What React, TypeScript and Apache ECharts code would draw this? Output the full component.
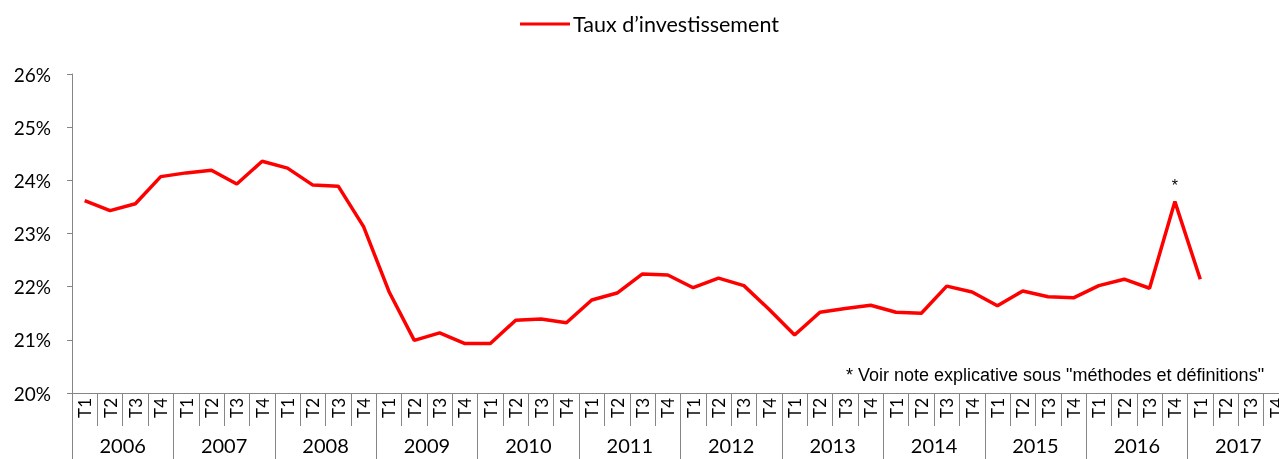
import React, { useEffect, useRef } from "react";
import * as echarts from "echarts";

const years = ["2006", "2007", "2008", "2009", "2010", "2011", "2012", "2013", "2014", "2015", "2016", "2017"];
const quarters = ["T1", "T2", "T3", "T4"];
const categories: string[] = years.flatMap(() => quarters);

const tauxInvestissement: (number | null)[] = [
  23.62, 23.43, 23.56, 24.07,
  24.14, 24.19, 23.93, 24.36,
  24.23, 23.91, 23.89, 23.13,
  21.91, 20.99, 21.13, 20.93,
  20.93, 21.37, 21.39, 21.32,
  21.75, 21.88, 22.24, 22.22,
  21.98, 22.16, 22.02, 21.57,
  21.09, 21.52, 21.59, 21.65,
  21.52, 21.50, 22.01, 21.90,
  21.64, 21.92, 21.81, 21.79,
  22.02, 22.14, 21.97, 23.60,
  22.14, null, null, null,
];
const starredIndex = 43;

const noteText = '* Voir note explicative sous "méthodes et définitions"';

export default function App() {
  const ref = useRef<HTMLDivElement>(null);
  useEffect(() => {
    if (!ref.current) return;
    const chart = echarts.init(ref.current, undefined, { renderer: "svg" });
    const gray = "#868686";
    const font = "Lato, 'Noto Sans', sans-serif";
    chart.setOption({
      animation: false,
      legend: {
        left: 515,
        top: 8,
        icon: "rect",
        itemWidth: 50,
        itemHeight: 3,
        itemGap: 10,
        textStyle: { fontFamily: font, fontSize: 21.5, color: "#000", padding: [0, 0, 0, -2] },
        data: ["Taux d’investissement"],
      },
      grid: { left: 72, right: 0, top: 74, bottom: 66, containLabel: false },
      xAxis: [
        {
          type: "category",
          data: categories,
          boundaryGap: true,
          axisLine: { show: true, lineStyle: { color: gray, width: 1 } },
          axisTick: { show: true, length: 33, interval: 0, lineStyle: { color: gray } },
          axisLabel: {
            interval: 0,
            rotate: 90,
            margin: 5,
            fontFamily: font,
            fontSize: 17,
            color: "#000",
          },
        },
        {
          type: "category",
          data: years,
          position: "bottom",
          offset: 33,
          boundaryGap: true,
          axisLine: { show: false },
          axisTick: { show: true, length: 40, interval: 0, lineStyle: { color: gray } },
          axisLabel: {
            interval: 0,
            margin: 9,
            fontFamily: font,
            fontSize: 20,
            color: "#000",
          },
        },
      ],
      yAxis: {
        type: "value",
        min: 20,
        max: 26,
        interval: 1,
        axisLine: { show: true, lineStyle: { color: gray } },
        axisTick: { show: true, length: 5, lineStyle: { color: gray } },
        splitLine: { show: false },
        axisLabel: {
          formatter: "{value}%",
          margin: 21,
          fontFamily: font,
          fontSize: 19,
          color: "#000",
        },
      },
      series: [
        {
          name: "Taux d’investissement",
          type: "line",
          xAxisIndex: 0,
          yAxisIndex: 0,
          showSymbol: true,
          symbol: "circle",
          symbolSize: 0,
          lineStyle: { color: "#FF0000", width: 3.5 },
          itemStyle: { color: "#FF0000" },
          data: tauxInvestissement.map((v, i) =>
            i === starredIndex
              ? {
                  value: v,
                  label: {
                    show: true,
                    position: "top",
                    distance: 8,
                    formatter: "*",
                    fontFamily: "'Liberation Sans', Arial, sans-serif",
                    fontSize: 16,
                    color: "#000",
                  },
                }
              : v
          ),
        },
      ],
      graphic: [
        {
          type: "text",
          left: 846,
          top: 366,
          style: {
            text: noteText,
            font: "18px 'Liberation Sans', Arial, sans-serif",
            fill: "#000",
          },
        },
      ],
    });
    return () => chart.dispose();
  }, []);
  return (
    <div
      ref={ref}
      style={{ position: "fixed", left: 0, top: 0, width: 1289, height: 459 }}
    />
  );
}
